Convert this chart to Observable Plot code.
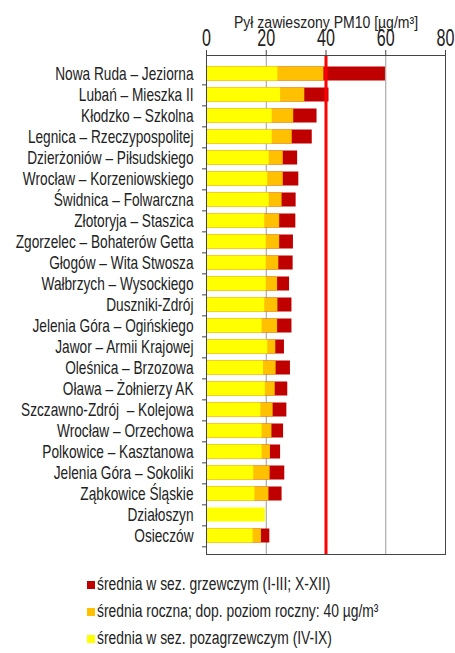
<!DOCTYPE html>
<html><head><meta charset="utf-8">
<script src="https://cdn.jsdelivr.net/npm/d3@7"></script>
<script src="https://cdn.jsdelivr.net/npm/@observablehq/plot@0.6"></script>
<style>
body{margin:0;background:#fff;font-family:"Liberation Sans",Arial,sans-serif;}
#chart svg{display:block;}
#legend{position:relative;margin-left:87px;margin-top:6px;font-size:18px;color:#222;}
#legend .it{display:flex;align-items:center;height:27px;}
#legend .sw{width:8px;height:8px;margin-right:2px;flex:none;}
#legend .tx{display:inline-block;transform:scaleX(0.77);transform-origin:left center;white-space:nowrap;}
</style></head><body>
<div id="chart"></div>
<div id="legend"></div>
<script>
const stations = ["Nowa Ruda – Jeziorna","Lubań – Mieszka II","Kłodzko – Szkolna","Legnica – Rzeczypospolitej","Dzierżoniów – Piłsudskiego","Wrocław – Korzeniowskiego","Świdnica – Folwarczna","Złotoryja – Staszica","Zgorzelec – Bohaterów Getta","Głogów – Wita Stwosza","Wałbrzych – Wysockiego","Duszniki-Zdrój","Jelenia Góra – Ogińskiego","Jawor – Armii Krajowej","Oleśnica – Brzozowa","Oława – Żołnierzy AK","Szczawno-Zdrój  – Kolejowa","Wrocław – Orzechowa","Polkowice – Kasztanowa","Jelenia Góra – Sokoliki","Ząbkowice Śląskie","Działoszyn","Osieczów"];
const summer = [23.9,24.8,22.0,22.0,21.0,20.5,21.0,19.5,20.0,20.0,20.0,19.5,18.6,20.5,19.1,19.7,18.2,18.6,18.6,15.8,16.2,19.7,15.6];
const annual = [39.3,32.9,29.2,28.7,25.7,25.7,25.3,24.5,24.5,24.2,23.8,23.9,23.8,23.2,23.3,23.0,22.3,21.9,21.4,21.3,20.9,null,18.4];
const winter = [59.9,41.0,37.0,35.4,30.5,30.9,30.0,29.9,29.1,29.0,27.8,28.6,28.6,26.1,28.1,27.2,26.9,25.8,24.8,26.2,25.3,null,21.2];
const xTicks = [0,20,40,60,80];
const limit = [40];
const gridLines = [20,60];
const title = "Pył zawieszony PM10 [µg/m³]";
const legendItems = [
  {label:"średnia w sez. grzewczym (I-III; X-XII)", color:"#C00000"},
  {label:"średnia roczna; dop. poziom roczny: 40 µg/m³", color:"#FFC000"},
  {label:"średnia w sez. pozagrzewczym (IV-IX)", color:"#FFFF00"}
];

const data = stations.map((s,i)=>({station:s, summer:summer[i], annual:annual[i], winter:winter[i]}));
const W=455, H=565, mT=55, mB=11, mL=206, mR=10;
const step = (H-mT-mB)/stations.length;
const font = '"Liberation Sans",Arial,sans-serif';

const chart = Plot.plot({
  width:W, height:H, marginTop:mT, marginBottom:mB, marginLeft:mL, marginRight:mR,
  style:{fontFamily:font, color:"#222", background:"#fff"},
  x:{domain:[0,80]},
  y:{domain:stations, padding:0},
  marks:[
    Plot.ruleX(gridLines,{stroke:"#9a9a9a", strokeWidth:1}),
    Plot.barX(data.filter(d=>d.winter!=null),{y:"station", x1:0, x2:"winter", fill:"#C00000", insetTop:3.5, insetBottom:3.5}),
    Plot.barX(data.filter(d=>d.annual!=null),{y:"station", x1:0, x2:"annual", fill:"#FFC000", insetTop:3.5, insetBottom:3.5}),
    Plot.barX(data,{y:"station", x1:0, x2:"summer", fill:"#FFFF00", insetTop:3.5, insetBottom:3.5}),
    Plot.ruleX(limit,{stroke:"#FF0000", strokeWidth:3}),
    Plot.frame({stroke:"#444"}),
    Plot.axisX({anchor:"top", ticks:xTicks, tickSize:6, tickPadding:4, fontSize:23, label:null, stroke:"#444"}),
    Plot.axisY({anchor:"left", tickSize:0, tickPadding:13, fontSize:18, label:null}),
    Plot.axisY({anchor:"left", tickSize:4, text:null, dy:step/2, stroke:"#444", label:null}),
    Plot.text([title],{frameAnchor:"top", dy:-39, fontSize:16.5, text:d=>d, fill:"#222"})
  ]
});
// narrow the glyphs horizontally (the reference uses a condensed face)
const scaleFor = {"x-axis tick label":0.7, "y-axis tick label":0.76, "text":0.85};
chart.querySelectorAll("g[aria-label]").forEach(g=>{
  const s = scaleFor[g.getAttribute("aria-label")];
  if(!s) return;
  g.querySelectorAll("text").forEach(t=>{
    const xa = t.getAttribute("x");
    let x = 0;
    if(xa !== null && isFinite(+xa)){ x = +xa; t.removeAttribute("x"); }
    const tr = t.getAttribute("transform")||"";
    t.setAttribute("transform", `${tr} translate(${x},0) scale(${s},1)`);
  });
});
document.getElementById("chart").appendChild(chart);
const lg = document.getElementById("legend");
for(const it of legendItems){
  const row=document.createElement("div"); row.className="it";
  const sw=document.createElement("span"); sw.className="sw"; sw.style.background=it.color;
  const t=document.createElement("span"); t.className="tx"; t.textContent=it.label;
  row.appendChild(sw); row.appendChild(t); lg.appendChild(row);
}
</script>
</body></html>
